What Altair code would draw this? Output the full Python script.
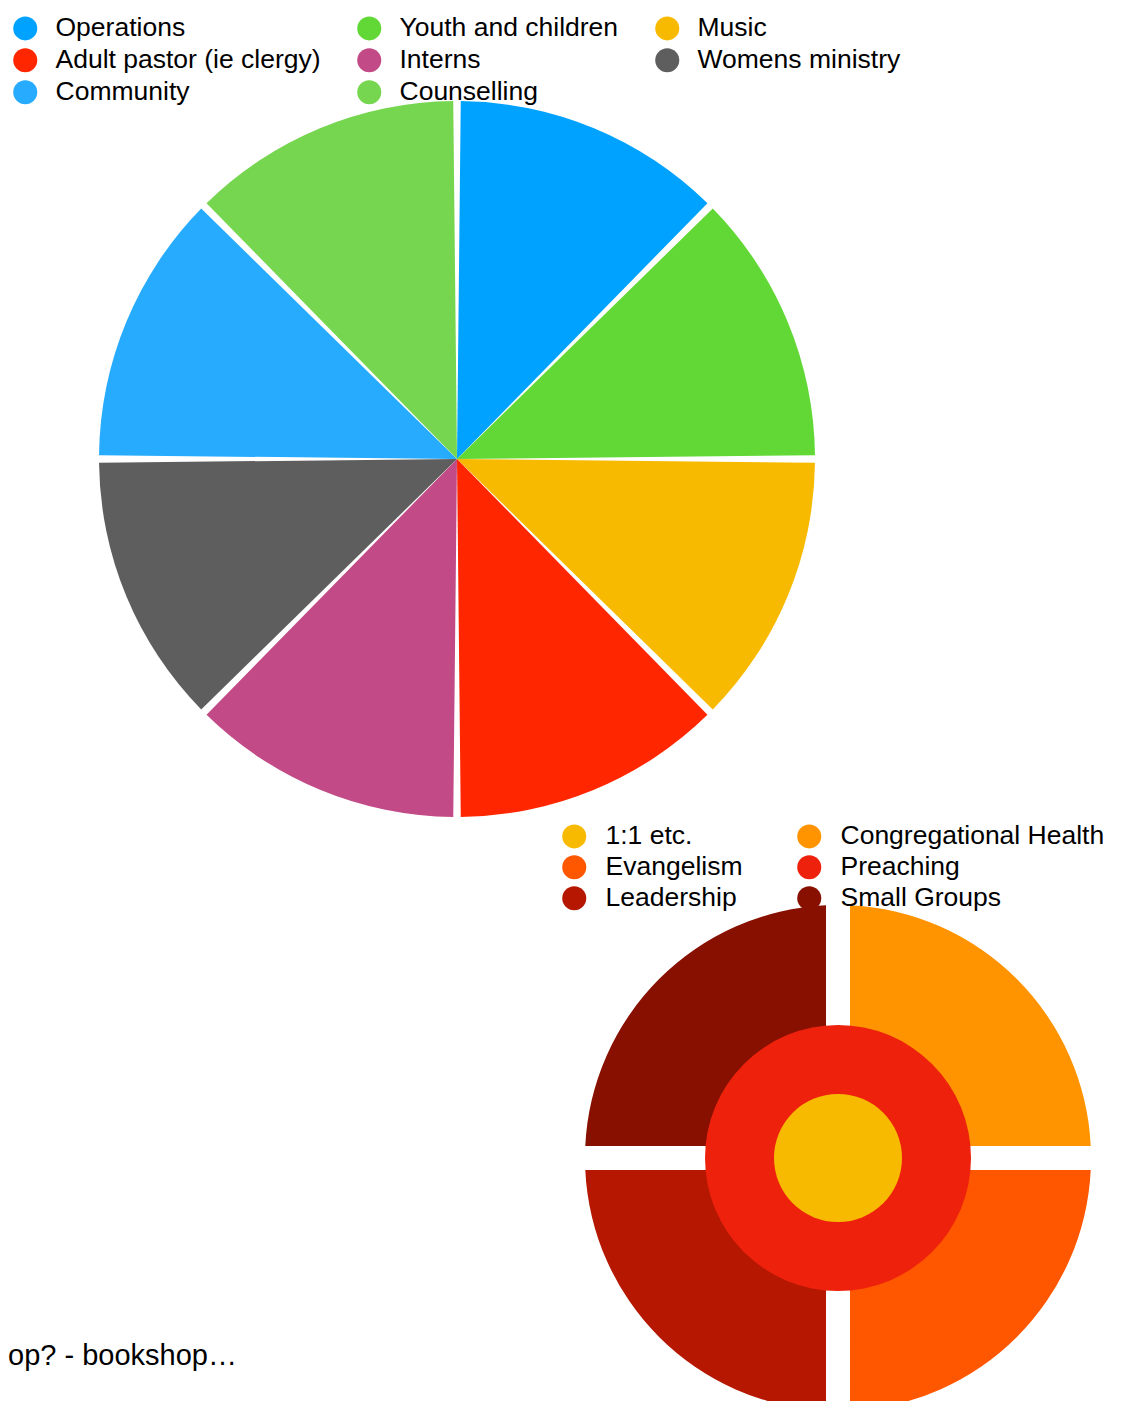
import altair as alt
import pandas as pd

# ---- data ----
top_names = ["Operations", "Youth and children", "Music",
             "Adult pastor (ie clergy)", "Interns", "Womens ministry",
             "Community", "Counselling"]
top_values = [1, 1, 1, 1, 1, 1, 1, 1]
top_colors = ["#00A2FF", "#61D836", "#F8BA00", "#FF2600",
              "#C24A86", "#5E5E5E", "#26ABFF", "#76D64F"]
# order of entries in the legend (Vega fills the legend grid column by column)
top_legend_order = ["Operations", "Adult pastor (ie clergy)", "Community",
                    "Youth and children", "Interns", "Counselling",
                    "Music", "Womens ministry"]

bottom_names = ["1:1 etc.", "Congregational  Health", "Evangelism",
                "Preaching", "Leadership", "Small Groups"]
bottom_colors = ["#F8BA00", "#FF9300", "#FF5600", "#EE220C", "#B51700", "#881000"]
bottom_ring = [0, 2, 2, 1, 2, 2]        # 0 = core, 1 = middle ring, 2 = outer ring
bottom_values = [1, 1, 1, 1, 1, 1]
bottom_order = [0, 0, 1, 0, 2, 3]
bottom_legend_order = ["1:1 etc.", "Evangelism", "Leadership",
                       "Congregational  Health", "Preaching", "Small Groups"]

note_text = ["op? - bookshop\u2026"]

FONT = "Liberation Sans, Arial, Helvetica, sans-serif"
FS = 26.5

top_cmap = dict(zip(top_names, top_colors))
bot_cmap = dict(zip(bottom_names, bottom_colors))

# ---- top pie ----
top_df = pd.DataFrame({"dept": top_names, "value": top_values,
                       "idx": list(range(len(top_names)))})

top = alt.Chart(top_df).mark_arc(radius=358, padAngle=0.021).encode(
    theta=alt.Theta("value:Q", stack=True),
    order=alt.Order("idx:Q"),
    color=alt.Color(
        "dept:N",
        scale=alt.Scale(domain=top_legend_order,
                        range=[top_cmap[n] for n in top_legend_order]),
        legend=alt.Legend(
            title=None, orient="none", legendX=4, legendY=7, columns=3,
            symbolType="circle", symbolSize=576, symbolStrokeWidth=0,
            symbolOpacity=1, labelFontSize=FS, labelFont=FONT,
            labelColor="black", columnPadding=35, rowPadding=5,
            labelOffset=17, padding=0, labelLimit=0,
        ),
    ),
    x=alt.value(449),
    y=alt.value(451),
)

# ---- bottom ring chart ----
bot_df = pd.DataFrame({"name": bottom_names, "ring": bottom_ring,
                       "value": bottom_values, "idx": bottom_order})

color_b = alt.Color(
    "name:N",
    scale=alt.Scale(domain=bottom_legend_order,
                    range=[bot_cmap[n] for n in bottom_legend_order]),
    legend=alt.Legend(
        title=None, orient="none", legendX=553, legendY=815, columns=2,
        symbolType="circle", symbolSize=576, symbolStrokeWidth=0,
        symbolOpacity=1, labelFontSize=FS, labelFont=FONT,
        labelColor="black", columnPadding=53, rowPadding=4,
        labelOffset=18, padding=0, labelLimit=0,
    ),
)

base = alt.Chart(bot_df).encode(color=color_b, x=alt.value(830), y=alt.value(1150))

outer = base.transform_filter("datum.ring == 2").mark_arc(
    radius=253, radius2=128, padAngle=0.0846
).encode(
    theta=alt.Theta("value:Q", stack=True),
    order=alt.Order("idx:Q"),
)
mid = base.transform_filter("datum.ring == 1").mark_arc(
    radius=133, radius2=60, theta=0, theta2=6.2832
)
core = base.transform_filter("datum.ring == 0").mark_arc(
    radius=64, theta=0, theta2=6.2832
)

bottom = alt.layer(outer, mid, core).resolve_scale(theta="independent")

# ---- stray note text ----
note = alt.Chart(pd.DataFrame({"t": note_text})).mark_text(
    align="left", baseline="middle", fontSize=29, font=FONT, color="black"
).encode(text="t:N", x=alt.value(0), y=alt.value(1348))

chart = alt.layer(top, bottom, note).resolve_scale(
    color="independent", theta="independent"
).properties(
    width=1115, height=1393, padding=0, autosize="none"
).configure_view(stroke=None)

chart.save("out.html", embed_options={"renderer": "svg", "actions": False})
